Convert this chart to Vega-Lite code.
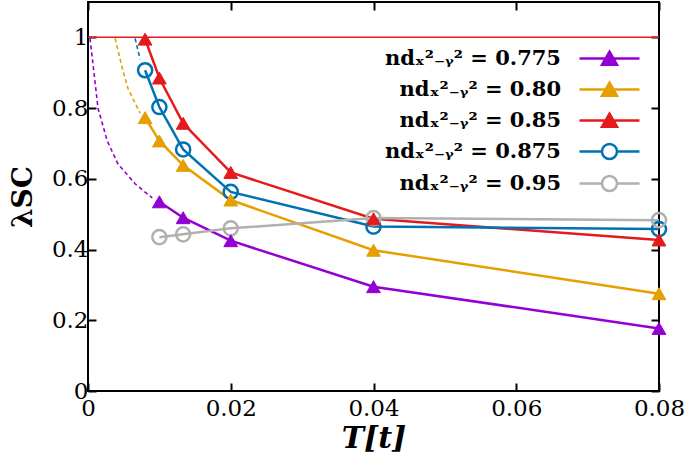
{
  "$schema": "https://vega.github.io/schema/vega-lite/v6.json",
  "width": 571,
  "height": 389,
  "autosize": {"type": "none"},
  "padding": {"left": 88, "top": 2, "right": 26, "bottom": 70},
  "background": "white",
  "config": {
    "view": {"stroke": "black", "strokeWidth": 2},
    "font": "DejaVu Serif"
  },
  "data": {
    "values": [
      {"n": "0.775", "T": 0.01, "lam": 0.535, "kind": "sim"},
      {"n": "0.775", "T": 0.01333, "lam": 0.49, "kind": "sim"},
      {"n": "0.775", "T": 0.02, "lam": 0.425, "kind": "sim"},
      {"n": "0.775", "T": 0.04, "lam": 0.295, "kind": "sim"},
      {"n": "0.775", "T": 0.08, "lam": 0.177, "kind": "sim"},
      {"n": "0.80", "T": 0.008, "lam": 0.773, "kind": "sim"},
      {"n": "0.80", "T": 0.01, "lam": 0.707, "kind": "sim"},
      {"n": "0.80", "T": 0.01333, "lam": 0.638, "kind": "sim"},
      {"n": "0.80", "T": 0.02, "lam": 0.54, "kind": "sim"},
      {"n": "0.80", "T": 0.04, "lam": 0.398, "kind": "sim"},
      {"n": "0.80", "T": 0.08, "lam": 0.275, "kind": "sim"},
      {"n": "0.85", "T": 0.008, "lam": 0.995, "kind": "sim"},
      {"n": "0.85", "T": 0.01, "lam": 0.885, "kind": "sim"},
      {"n": "0.85", "T": 0.01333, "lam": 0.757, "kind": "sim"},
      {"n": "0.85", "T": 0.02, "lam": 0.618, "kind": "sim"},
      {"n": "0.85", "T": 0.04, "lam": 0.487, "kind": "sim"},
      {"n": "0.85", "T": 0.08, "lam": 0.427, "kind": "sim"},
      {"n": "0.875", "T": 0.008, "lam": 0.907, "kind": "sim"},
      {"n": "0.875", "T": 0.01, "lam": 0.803, "kind": "sim"},
      {"n": "0.875", "T": 0.01333, "lam": 0.683, "kind": "sim"},
      {"n": "0.875", "T": 0.02, "lam": 0.563, "kind": "sim"},
      {"n": "0.875", "T": 0.04, "lam": 0.465, "kind": "sim"},
      {"n": "0.875", "T": 0.08, "lam": 0.458, "kind": "sim"},
      {"n": "0.95", "T": 0.01, "lam": 0.435, "kind": "sim"},
      {"n": "0.95", "T": 0.01333, "lam": 0.443, "kind": "sim"},
      {"n": "0.95", "T": 0.02, "lam": 0.46, "kind": "sim"},
      {"n": "0.95", "T": 0.04, "lam": 0.489, "kind": "sim"},
      {"n": "0.95", "T": 0.08, "lam": 0.483, "kind": "sim"},
      {"n": "0.775", "T": 0.00028, "lam": 0.997, "kind": "extrap"},
      {"n": "0.775", "T": 0.0007, "lam": 0.924, "kind": "extrap"},
      {"n": "0.775", "T": 0.0014, "lam": 0.8, "kind": "extrap"},
      {"n": "0.775", "T": 0.0027, "lam": 0.707, "kind": "extrap"},
      {"n": "0.775", "T": 0.0042, "lam": 0.642, "kind": "extrap"},
      {"n": "0.775", "T": 0.0066, "lam": 0.586, "kind": "extrap"},
      {"n": "0.775", "T": 0.009, "lam": 0.546, "kind": "extrap"},
      {"n": "0.80", "T": 0.0038, "lam": 0.997, "kind": "extrap"},
      {"n": "0.80", "T": 0.0048, "lam": 0.913, "kind": "extrap"},
      {"n": "0.80", "T": 0.0056, "lam": 0.856, "kind": "extrap"},
      {"n": "0.80", "T": 0.0066, "lam": 0.814, "kind": "extrap"},
      {"n": "0.80", "T": 0.0073, "lam": 0.786, "kind": "extrap"},
      {"n": "0.875", "T": 0.0066, "lam": 0.997, "kind": "extrap"},
      {"n": "0.875", "T": 0.0073, "lam": 0.938, "kind": "extrap"}
    ]
  },
  "resolve": {"axis": {"x": "independent", "y": "independent"}},
  "layer": [
    {
      "transform": [{"filter": "datum.kind == 'extrap'"}],
      "mark": {"type": "line", "strokeWidth": 1.6, "strokeDash": [4, 3]},
      "encoding": {
        "x": {"field": "T", "type": "quantitative", "axis": null, "scale": {"domain": [0, 0.08], "nice": false, "zero": false}},
        "y": {"field": "lam", "type": "quantitative", "axis": null, "scale": {"domain": [0, 1.1], "nice": false, "zero": false}},
        "color": {"field": "n", "type": "nominal",
          "scale": {"domain": ["0.775", "0.80", "0.85", "0.875", "0.95"], "range": ["#9400D3", "#E69F00", "#E41A1C", "#0072B2", "#B0B0B0"]}},
        "order": {"field": "T", "type": "quantitative"}
      }
    },
    {
      "data": {"values": [{"lam": 1}]},
      "mark": {"type": "rule", "color": "#E41A1C", "strokeWidth": 1.5},
      "encoding": {
        "y": {"field": "lam", "type": "quantitative", "axis": null}
      }
    },
    {
      "transform": [{"filter": "datum.kind == 'sim'"}],
      "mark": {"type": "line", "strokeWidth": 2.5},
      "encoding": {
        "x": {"field": "T", "type": "quantitative",
          "axis": {"orient": "bottom", "values": [0, 0.02, 0.04, 0.06, 0.08],
            "labelExpr": "datum.value == 0 ? '0' : format(datum.value, '.2f')",
            "domain": false, "grid": false, "tickSize": -8, "tickWidth": 2, "tickColor": "black",
            "labelFlush": false, "labelOverlap": false, "labelFont": "DejaVu Serif", "labelFontSize": 23, "labelColor": "black", "labelPadding": 14,
            "title": "T[t]", "titleFont": "DejaVu Serif", "titleFontSize": 30, "titleFontStyle": "italic", "titleFontWeight": "bold", "titleColor": "black", "titlePadding": 3}},
        "y": {"field": "lam", "type": "quantitative",
          "axis": {"orient": "left", "values": [0, 0.2, 0.4, 0.6, 0.8, 1],
            "labelExpr": "datum.value == 0 ? '0' : datum.value == 1 ? '1' : format(datum.value, '.1f')",
            "domain": false, "grid": false, "tickSize": -8, "tickWidth": 2, "tickColor": "black",
            "labelFlush": false, "labelOverlap": false, "labelFont": "DejaVu Serif", "labelFontSize": 23, "labelColor": "black", "labelPadding": 8,
            "title": "λSC", "titleFont": "DejaVu Serif", "titleFontSize": 28, "titleFontWeight": "bold", "titleColor": "black", "titlePadding": 14}},
        "color": {"field": "n", "type": "nominal",
          "legend": {
            "orient": "none", "legendX": 510, "legendY": 45, "padding": 0,
            "title": null, "symbolSize": 400, "symbolStrokeWidth": 2.5,
            "labelFont": "DejaVu Serif", "labelFontSize": 21, "labelFontWeight": "bold", "labelColor": "black",
            "labelAlign": "right", "labelOffset": -60, "labelLimit": 400, "rowPadding": 7,
            "labelExpr": "'ndₓ²₋ᵧ² = ' + datum.label",
            "encode": {
              "symbols": {
                "update": {
                  "shape": {"signal": "(datum.value === '0.875' || datum.value === '0.95') ? 'M-3,0H-0.75M0.75,0H3M0.75,0C0.75,0.414,0.414,0.75,0,0.75C-0.414,0.75,-0.75,0.414,-0.75,0C-0.75,-0.414,-0.414,-0.75,0,-0.75C0.414,-0.75,0.75,-0.414,0.75,0Z' : 'M-3,0H3M0,-0.68L0.75,0.62L-0.75,0.62Z'"},
                  "fill": {"signal": "(datum.value === '0.875' || datum.value === '0.95') ? 'transparent' : (datum.value === '0.775' ? '#9400D3' : (datum.value === '0.80' ? '#E69F00' : '#E41A1C'))"},
                  "fillOpacity": {"signal": "(datum.value === '0.875' || datum.value === '0.95') ? 0 : 1"},
                  "stroke": {"signal": "datum.value === '0.775' ? '#9400D3' : (datum.value === '0.80' ? '#E69F00' : (datum.value === '0.85' ? '#E41A1C' : (datum.value === '0.875' ? '#0072B2' : '#B0B0B0')))"},
                  "strokeWidth": {"value": 2.5},
                  "opacity": {"value": 1}
                }
              }
            }
          }},
        "order": {"field": "T", "type": "quantitative"}
      }
    },
    {
      "transform": [{"filter": "datum.kind == 'sim' && (datum.n == '0.875' || datum.n == '0.95')"}],
      "mark": {"type": "point", "shape": "circle", "filled": false, "size": 200, "strokeWidth": 2.5, "opacity": 1},
      "encoding": {
        "x": {"field": "T", "type": "quantitative", "axis": null},
        "y": {"field": "lam", "type": "quantitative", "axis": null},
        "color": {"field": "n", "type": "nominal"}
      }
    },
    {
      "transform": [{"filter": "datum.kind == 'sim' && (datum.n == '0.775' || datum.n == '0.80' || datum.n == '0.85')"}],
      "mark": {"type": "point", "shape": "triangle-up", "filled": true, "size": 190, "strokeWidth": 1, "opacity": 1},
      "encoding": {
        "x": {"field": "T", "type": "quantitative", "axis": null},
        "y": {"field": "lam", "type": "quantitative", "axis": null},
        "color": {"field": "n", "type": "nominal"},
        "stroke": {"field": "n", "type": "nominal", "legend": null, "scale": {"domain": ["0.775", "0.80", "0.85", "0.875", "0.95"], "range": ["#9400D3", "#E69F00", "#E41A1C", "#0072B2", "#B0B0B0"]}}
      }
    },
    {
      "transform": [{"filter": "datum.kind == 'sim'"}],
      "mark": {"type": "point", "opacity": 0},
      "encoding": {
        "x": {"field": "T", "type": "quantitative",
          "axis": {"orient": "top", "values": [0, 0.02, 0.04, 0.06, 0.08], "labels": false, "domain": false, "grid": false, "tickSize": -8, "tickWidth": 2, "tickColor": "black", "title": null}},
        "y": {"field": "lam", "type": "quantitative",
          "axis": {"orient": "right", "values": [0, 0.2, 0.4, 0.6, 0.8, 1], "labels": false, "domain": false, "grid": false, "tickSize": -8, "tickWidth": 2, "tickColor": "black", "title": null}}
      }
    }
  ]
}
